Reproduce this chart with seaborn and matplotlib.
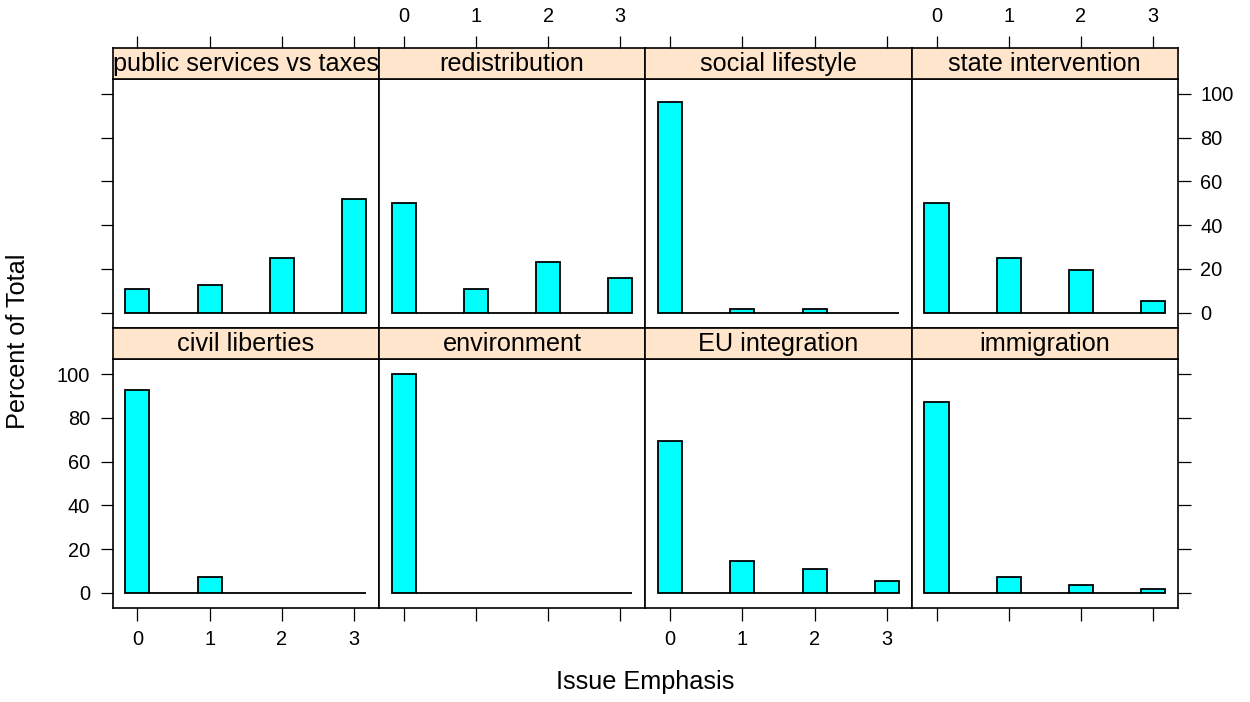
import numpy as np
import pandas as pd
import matplotlib
matplotlib.use("Agg")
import matplotlib.pyplot as plt
import seaborn as sns

# panel order as lattice lays it out: bottom row first, left to right
issues_bottom = ["civil liberties", "environment", "EU integration", "immigration"]
issues_top = ["public services vs taxes", "redistribution", "social lifestyle", "state intervention"]

emphasis = [0, 1, 2, 3]

# percent of total per emphasis level
civil_liberties = [92.9, 7.1, 0.0, 0.0]
environment = [100.0, 0.0, 0.0, 0.0]
eu_integration = [69.6, 14.3, 10.7, 5.4]
immigration = [87.5, 7.1, 3.6, 1.8]
public_services = [10.7, 12.5, 25.0, 51.8]
redistribution = [50.0, 10.7, 23.2, 16.1]
social_lifestyle = [96.4, 1.8, 1.8, 0.0]
state_intervention = [50.0, 25.0, 19.6, 5.4]

values = {
    "civil liberties": civil_liberties,
    "environment": environment,
    "EU integration": eu_integration,
    "immigration": immigration,
    "public services vs taxes": public_services,
    "redistribution": redistribution,
    "social lifestyle": social_lifestyle,
    "state intervention": state_intervention,
}

y_ticks = [0, 20, 40, 60, 80, 100]

rows = []
for issue, pct in values.items():
    for e, p in zip(emphasis, pct):
        rows.append({"issue": issue, "emphasis": e, "pct": p})
df = pd.DataFrame(rows)

sns.set_theme(style="white")
plt.rcParams['font.family'] = ['Liberation Sans', 'DejaVu Sans']
plt.rcParams['text.color'] = 'black'
plt.rcParams['xtick.labelcolor'] = 'black'
plt.rcParams['ytick.labelcolor'] = 'black'

W, H = 1250, 702
fig = plt.figure(figsize=(W / 100, H / 100), dpi=100)

left0 = 112.5
col_w = (1178 - 112.5) / 4
# (strip top, panel top, panel bottom) in pixels from the top
row_px = {
    "top": (48, 79, 327.7),
    "bottom": (327.7, 359.3, 607.7),
}

xlim = (-0.345, 3.345)
ylim = (-6.85, 106.85)
tick_fs = 14.4
text_fs = 18.2
tick_len = 9
strip_col = "#FFE5CC"


def frac(x0, y_top, w, h):
    return [x0 / W, 1 - (y_top + h) / H, w / W, h / H]


for row_name, names in [("top", issues_top), ("bottom", issues_bottom)]:
    s_top, p_top, p_bot = row_px[row_name]
    for i, issue in enumerate(names):
        x0 = left0 + i * col_w
        ax = fig.add_axes(frac(x0, p_top, col_w, p_bot - p_top))
        sub = df[df["issue"] == issue]
        sns.histplot(data=sub, x="emphasis", weights="pct",
                     binwidth=1 / 3, binrange=(-1 / 6, 3 + 1 / 6),
                     color="#00FFFF", edgecolor="black", linewidth=1.3,
                     alpha=1, ax=ax)
        ax.set_xlim(xlim)
        ax.set_ylim(ylim)
        ax.set_xlabel("")
        ax.set_ylabel("")
        for sp in ax.spines.values():
            sp.set_color("black")
            sp.set_linewidth(1.2)
        ax.set_xticks(emphasis)
        ax.set_yticks(y_ticks)
        ax.tick_params(direction="out", length=tick_len, width=0.9,
                       color="black", labelsize=tick_fs, pad=7)

        # x axis: only bottom row gets bottom ticks, labels alternate
        if row_name == "bottom":
            ax.tick_params(axis="x", bottom=True, labelbottom=(i % 2 == 0))
        else:
            ax.tick_params(axis="x", bottom=False, labelbottom=False)

        # y axis: left ticks on first column, right ticks on last column
        ax.tick_params(axis="y", left=(i == 0), right=(i == 3),
                       labelleft=(i == 0 and row_name == "bottom"),
                       labelright=(i == 3 and row_name == "top"))

        # strip
        sx = fig.add_axes(frac(x0, s_top, col_w, p_top - s_top))
        sx.set_facecolor(strip_col)
        sx.set_xlim(xlim)
        sx.set_ylim(0, 1)
        sx.set_yticks([])
        for sp in sx.spines.values():
            sp.set_color("black")
            sp.set_linewidth(1.2)
        sx.text(0.5, 0.47, issue, transform=sx.transAxes, ha="center",
                va="center", fontsize=text_fs, color="black", clip_on=True)
        if row_name == "top":
            sx.set_xticks(emphasis)
            sx.tick_params(axis="x", top=True, bottom=False, labeltop=(i % 2 == 1),
                           labelbottom=False, direction="out", length=tick_len,
                           width=0.9, color="black", labelsize=tick_fs, pad=7)
        else:
            sx.set_xticks([])

fig.text(645 / W, 1 - 682 / H, "Issue Emphasis", ha="center", va="center",
         fontsize=text_fs, color="black")
fig.text(18 / W, 1 - 341 / H, "Percent of Total", ha="center", va="center",
         rotation=90, fontsize=text_fs, color="black")

fig.savefig("out.png", dpi=100, facecolor="white")
